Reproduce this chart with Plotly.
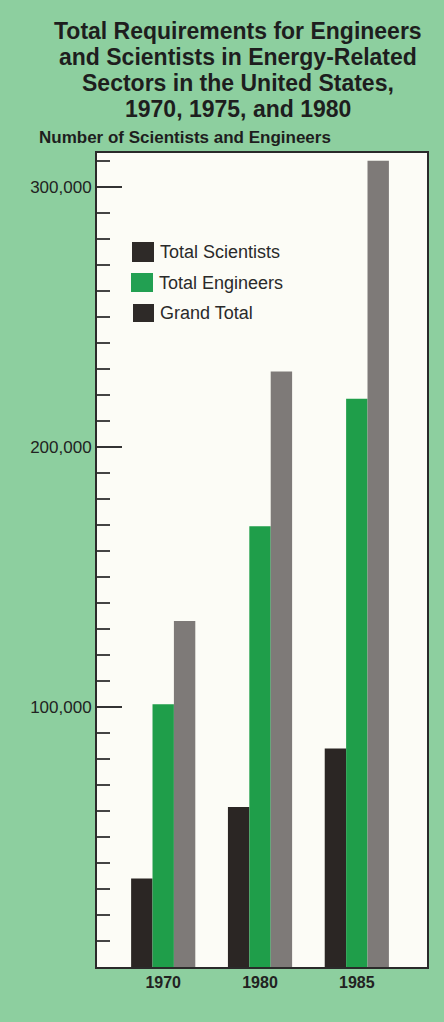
import plotly.graph_objects as go

# values
years = ["1970", "1980", "1985"]
scientists = [34000, 61500, 84000]
engineers = [101000, 169500, 218500]
grand_total = [133000, 229000, 310000]

series_names = ["Total Scientists", "Total Engineers", "Grand Total"]
bar_colors = ["#2b2624", "#1f9e4a", "#7e7a78"]
legend_colors = ["#2e2a28", "#22a052", "#2e2a28"]

y_tickvals = [100000, 200000, 300000]
y_ticktext = ["100,000", "200,000", "300,000"]

title_lines = [
    "Total Requirements for Engineers",
    "and Scientists in Energy-Related",
    "Sectors in the United States,",
    "1970, 1975, and 1980",
]
subtitle = "Number of Scientists and Engineers"

FONT = "Liberation Sans, Arial, sans-serif"
W, H = 444, 1022
L, R, T, B = 97, 427, 153, 967


def paper(x, y):
    """pixel position -> paper coordinates of the plot area"""
    return (x - L) / (R - L), (B - y) / (B - T)


fig = go.Figure()
for name, vals, col in zip(series_names, [scientists, engineers, grand_total], bar_colors):
    fig.add_trace(go.Bar(
        x=years, y=vals, name=name,
        marker=dict(color=col, line=dict(width=0)),
        showlegend=False,
    ))

# title lines
for i, line in enumerate(title_lines):
    px_, py_ = paper(238, 31 + i * 26)
    fig.add_annotation(
        x=px_, y=py_, xref="paper", yref="paper", text=line, showarrow=False,
        xanchor="center", yanchor="middle",
        font=dict(family=FONT, size=23, color="#1e1e1e", weight="bold"),
    )

sx, sy = paper(37, 137)
fig.add_annotation(
    x=sx, y=sy, xref="paper", yref="paper", text=subtitle, showarrow=False,
    xanchor="left", yanchor="middle",
    font=dict(family=FONT, size=17, color="#1e1e1e", weight="bold"),
)

# hand-drawn legend as in the original (swatch + label)
swatches = [(132, 242, 154, 262), (131, 273, 153, 292), (133, 304, 154, 322)]
for name, col, (x0, y0, x1, y1) in zip(series_names, legend_colors, swatches):
    a0, b0 = paper(x0, y0)
    a1, b1 = paper(x1, y1)
    fig.add_shape(type="rect", xref="paper", yref="paper",
                  x0=a0, y0=b0, x1=a1, y1=b1,
                  fillcolor=col, line=dict(width=0))
    tx, ty = paper(x1 + 4, (y0 + y1) / 2)
    fig.add_annotation(
        x=tx, y=ty, xref="paper", yref="paper", text=name, showarrow=False,
        xanchor="left", yanchor="middle",
        font=dict(family=FONT, size=18, color="#2a2a2a"),
    )

fig.update_layout(
    width=W, height=H, autosize=False,
    margin=dict(l=L, r=W - R, t=T, b=H - B),
    paper_bgcolor="#8dcf9f",
    plot_bgcolor="#fcfcf6",
    barmode="group", bargap=0.337, bargroupgap=0,
    showlegend=False,
)

fig.update_xaxes(
    type="category", range=[-0.684, 2.725],
    showline=True, linecolor="#2a2a2a", linewidth=2, mirror=True,
    ticks="", showgrid=False, zeroline=False,
    tickfont=dict(family=FONT, size=16, color="#222", weight="bold"),
)

fig.update_yaxes(
    range=[0, 313000],
    tickvals=y_tickvals, ticktext=y_ticktext,
    ticks="inside", ticklen=25, tickwidth=1.5, tickcolor="#333",
    minor=dict(dtick=10000, tick0=0, ticks="inside", ticklen=13,
               tickwidth=1.5, tickcolor="#444", showgrid=False),
    showline=True, linecolor="#2a2a2a", linewidth=2, mirror=True,
    showgrid=False, zeroline=False,
    tickfont=dict(family=FONT, size=17, color="#222"),
)

# drop the browser's default page margin so the figure sits at 0,0
fig.write_html(
    "out.html",
    config={"displayModeBar": False},
    post_script="document.body.style.margin='0';document.body.style.padding='0';",
)
